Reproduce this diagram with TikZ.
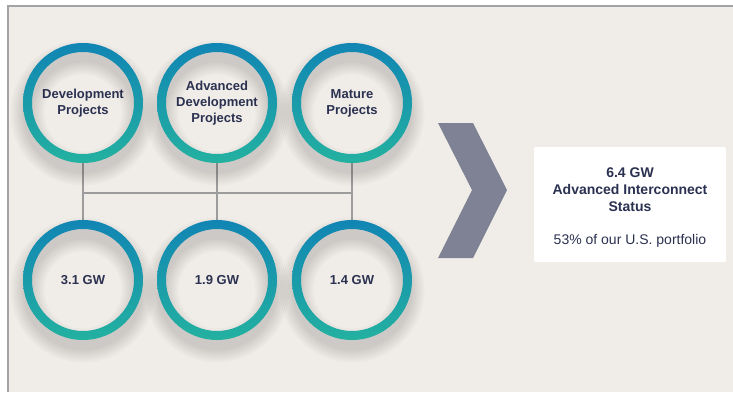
\documentclass[tikz,border=0pt]{standalone}
\usepackage{fontspec}
\setmainfont{Liberation Sans}
\definecolor{bgc}{HTML}{F0ECE8}
\definecolor{framec}{HTML}{A3A3A5}
\definecolor{txtc}{HTML}{2B3150}
\definecolor{ringtop}{HTML}{1185B4}
\definecolor{ringbot}{HTML}{23B1A0}
\definecolor{chevc}{HTML}{7E8294}
\definecolor{linec}{HTML}{9C9C9C}
\tikzset{
  ringnode/.style={circle, minimum size=120pt, inner sep=0pt, align=center,
    font=\fontsize{13}{16}\selectfont\bfseries, text=txtc},
  conn/.style={draw=linec, line width=1.2pt},
  infobox/.style={fill=white, rounded corners=2pt, minimum width=192pt, minimum height=115pt},
  infotext/.style={align=center, text=txtc, font=\fontsize{14}{17}\selectfont},
}
\begin{document}
\begin{tikzpicture}[x=1pt,y=-1pt]
\useasboundingbox (0,0) rectangle (733,392);
\fill[white] (0,0) rectangle (733,392);
\fill[bgc] (8,6) rectangle (733,392);
\draw[framec, line width=1.8pt] (8,392) -- (8,6) -- (733,6);
% nodes
\node[ringnode] (c1) at (83,103) {Development\\Projects};
\node[ringnode] (c2) at (217,103) {Advanced\\Development\\Projects};
\node[ringnode] (c3) at (352,103) {Mature\\Projects};
\node[ringnode] (c4) at (83,280) {3.1 GW};
\node[ringnode] (c5) at (217,280) {1.9 GW};
\node[ringnode] (c6) at (352,280) {1.4 GW};
\coordinate (hl) at (0,193);
% connectors
\draw[conn] (c1.south) -- (c4.north);
\draw[conn] (c2.south) -- (c5.north);
\draw[conn] (c3.south) -- (c6.north);
\draw[conn] (c1.south |- hl) -- (c3.south |- hl);
% rings with soft shadows
\foreach \n in {c1,c2,c3,c4,c5,c6}{
  \foreach \w in {34,30,26,22,18,14,10} {
    \draw[black, opacity=0.018, line width=\w pt] ([yshift=-10pt]\n.center) circle (55.5);
  }
  \shade[top color=ringtop, bottom color=ringbot, even odd rule]
    (\n.center) circle (60) (\n.center) circle (51);
}
% chevron
\fill[chevc] (438,123) -- (473,123) -- (507,190) -- (473,258) -- (438,258) -- (472,190) -- cycle;
% info box
\node[infobox] (box) at (630,204.5) {};
\node[infotext] (boxtxt) at ([yshift=-3pt]box.center) {\textbf{6.4 GW}\\\textbf{Advanced Interconnect}\\\textbf{Status}\\[16pt]53\% of our U.S. portfolio};
\end{tikzpicture}
\end{document}
